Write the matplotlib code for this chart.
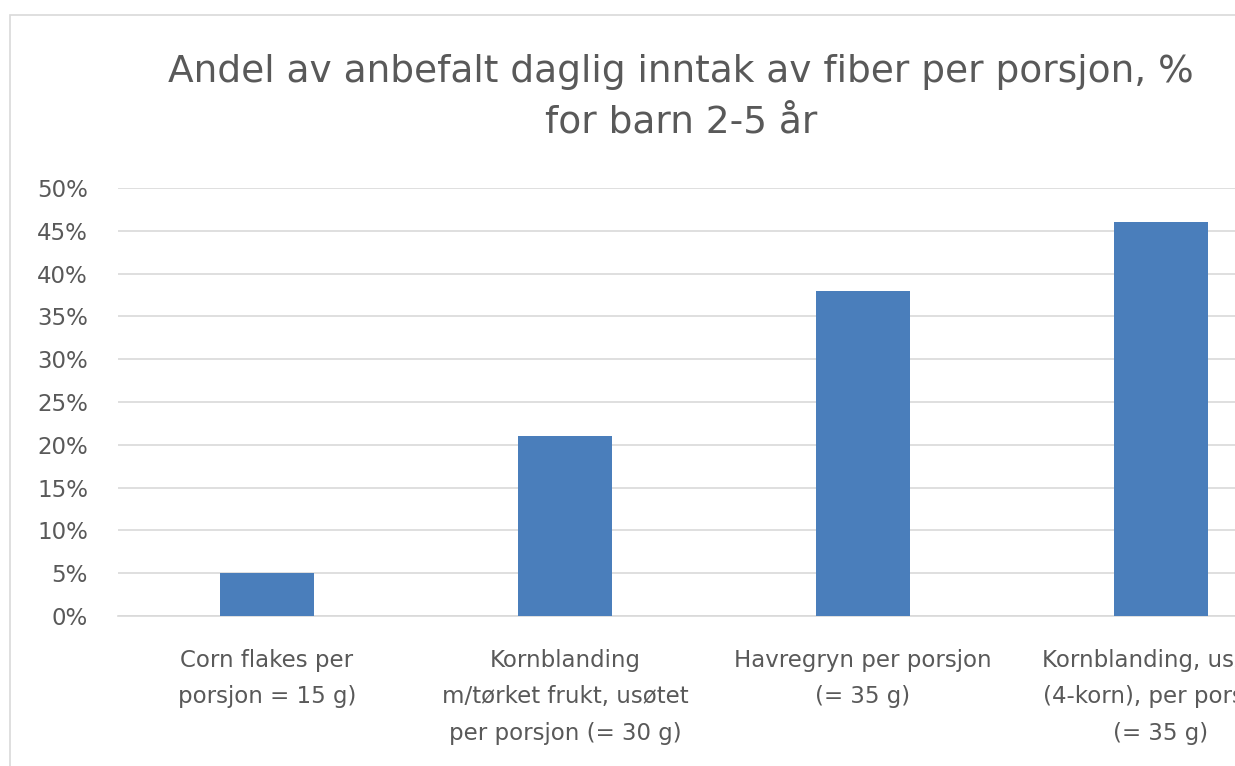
import matplotlib.pyplot as plt
from matplotlib.patches import Rectangle
from matplotlib.ticker import PercentFormatter

# data
categories = [
    "Corn flakes per\nporsjon = 15 g)",
    "Kornblanding\nm/tørket frukt, usøtet\nper porsjon (= 30 g)",
    "Havregryn per porsjon\n(= 35 g)",
    "Kornblanding, usøtet\n(4-korn), per porsjon\n(= 35 g)",
]
values = [0.05, 0.21, 0.38, 0.46]
yticks = [0.0, 0.05, 0.10, 0.15, 0.20, 0.25, 0.30, 0.35, 0.40, 0.45, 0.50]

title = "Andel av anbefalt daglig inntak av fiber per porsjon, %\nfor barn 2-5 år"

text_col = "#595959"
grid_col = "#d9d9d9"
bar_col = "#4a7ebb"

plt.rcParams["font.family"] = ["DejaVu Sans"]

fig = plt.figure(figsize=(12.35, 7.66), dpi=100)
W, H = 1235, 766

# chart border (cropped on right/bottom)
fig.patches.append(Rectangle((10 / W, -0.1), 1.2, 1 - 15 / H + 0.1,
                             transform=fig.transFigure, fill=False,
                             edgecolor=grid_col, linewidth=1.2))

# plot area extends past the right edge, as in the cropped original
ax = fig.add_axes([118 / W, 150 / H, 1192 / W, 428 / H])
x = range(len(values))
ax.bar(x, values, width=0.313, color=bar_col, zorder=3)

ax.set_xlim(-0.5, len(values) - 0.5)
ax.set_ylim(0, 0.5)
ax.set_yticks(yticks)
ax.yaxis.set_major_formatter(PercentFormatter(1.0, decimals=0))
ax.set_xticks(list(x))
ax.set_xticklabels(categories)

ax.grid(axis="y", color=grid_col, linewidth=1.2, zorder=0)
for s in ["top", "right", "left"]:
    ax.spines[s].set_visible(False)
ax.spines["bottom"].set_color(grid_col)
ax.spines["bottom"].set_linewidth(1.2)

ax.tick_params(axis="both", length=0, colors=text_col, labelsize=16.5)
ax.tick_params(axis="y", pad=21.6)
ax.tick_params(axis="x", pad=23.5)
for lab in ax.get_xticklabels():
    lab.set_linespacing(1.76)
    lab.set_va("top")

fig.text(681 / W, 1 - 54 / H, title, ha="center", va="top", fontsize=27,
         color=text_col, linespacing=1.52)

fig.savefig("out.png", dpi=100)
